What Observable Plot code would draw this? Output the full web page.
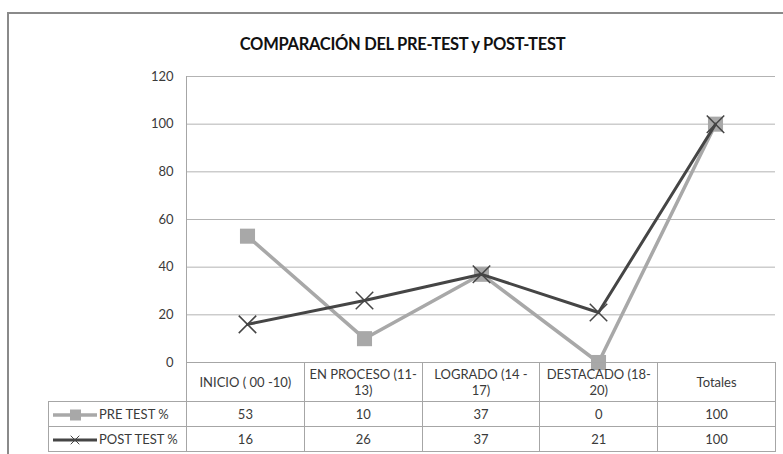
<!DOCTYPE html>
<html><head><meta charset="utf-8">
<script src="https://cdn.jsdelivr.net/npm/d3@7"></script>
<script src="https://cdn.jsdelivr.net/npm/@observablehq/plot@0.6"></script>
<style>
html,body{margin:0;padding:0;background:#fff;overflow:hidden;}
#wrap{position:relative;width:783px;height:454px;overflow:hidden;font-family:Lato,"Open Sans",sans-serif;color:#3a3a3a;}
#border{position:absolute;left:7px;top:12px;width:840px;height:520px;border:2px solid #8a8a8a;box-sizing:border-box;}
#title{position:absolute;left:0;width:805px;top:34px;text-align:center;font-weight:bold;font-size:16.5px;color:#111;letter-spacing:-0.3px;}
#chart{position:absolute;left:0;top:0;}
#tbl{position:absolute;border-collapse:collapse;table-layout:fixed;font-size:13px;color:#3a3a3a;}
#tbl td{border:1px solid #a6a6a6;text-align:center;padding:0;line-height:16px;white-space:pre-line;overflow:hidden;}
#tbl td.leg{text-align:left;white-space:nowrap;}
#tbl td.leg svg{vertical-align:middle;margin-left:4px;margin-right:2px;}
</style></head>
<body><div id="wrap"><div id="border"></div><div id="title"></div><div id="chart"></div></div>
<script>
const title = "COMPARACIÓN DEL PRE-TEST y POST-TEST";
const categories = ["INICIO ( 00 -10)", "EN PROCESO (11-13)", "LOGRADO (14 - 17)", "DESTACADO (18-20)", "Totales"];
const headerLabels = ["INICIO ( 00 -10)", "EN PROCESO (11-\n13)", "LOGRADO (14 -\n17)", "DESTACADO (18-\n20)", "Totales"];
const preTest = [53, 10, 37, 0, 100];
const postTest = [16, 26, 37, 21, 100];
const seriesNames = ["PRE TEST %", "POST TEST %"];
const yTicks = [0, 20, 40, 60, 80, 100, 120];
const colors = ["#a8a8a8", "#454545"];

document.getElementById("title").textContent = title;

const pre = categories.map((c, i) => ({cat: c, v: preTest[i]}));
const post = categories.map((c, i) => ({cat: c, v: postTest[i]}));

const chart = Plot.plot({
  width: 783, height: 454,
  marginLeft: 186, marginRight: 8, marginTop: 76, marginBottom: 92,
  style: {fontFamily: "Lato, 'Open Sans', sans-serif", fontSize: "13px", color: "#3a3a3a", background: "transparent", overflow: "visible"},
  x: {type: "point", domain: categories, padding: 0.5, axis: null},
  y: {domain: [0, 120], label: null},
  marks: [
    Plot.gridY(yTicks, {stroke: "#b3b3b3", strokeOpacity: 1}),
    Plot.frame({anchor: "left", stroke: "#a6a6a6"}),
    Plot.axisY(yTicks, {tickSize: 0, tickPadding: 13, fontSize: 13, fill: "#3a3a3a", label: null}),
    Plot.line(pre, {x: "cat", y: "v", stroke: colors[0], strokeWidth: 3.5}),
    Plot.dot(pre, {x: "cat", y: "v", symbol: "square", r: 8.5, fill: colors[0], stroke: "none"}),
    Plot.line(post, {x: "cat", y: "v", stroke: colors[1], strokeWidth: 3}),
    Plot.dot(post, {x: "cat", y: "v", symbol: "times", r: 8, stroke: colors[1], strokeWidth: 1.5})
  ]
});
document.getElementById("chart").appendChild(chart);

// data table below the plot, aligned with the x scale
const xs = chart.scale("x"), ys = chart.scale("y");
const x0 = Math.min(...xs.range), x1 = Math.max(...xs.range);
const step = (x1 - x0) / categories.length;
const legW = 138;
const top0 = ys.apply(0);
const tbl = d3.select("#wrap").append("table").attr("id", "tbl")
  .style("left", (x0 - legW) + "px").style("top", top0 + "px")
  .style("width", (legW + step * categories.length) + "px");
const cg = tbl.append("colgroup");
cg.append("col").style("width", legW + "px");
categories.forEach(() => cg.append("col").style("width", step + "px"));
const hr = tbl.append("tr").style("height", "39px");
hr.append("td").style("border-top", "none").style("border-left", "none");
headerLabels.forEach(h => hr.append("td").text(h));
[preTest, postTest].forEach((vals, s) => {
  const tr = tbl.append("tr").style("height", "25px");
  const td = tr.append("td").attr("class", "leg");
  const svg = td.append("svg").attr("width", 44).attr("height", 14);
  svg.append("line").attr("x1", 0).attr("x2", 44).attr("y1", 7).attr("y2", 7)
    .attr("stroke", colors[s]).attr("stroke-width", s ? 3 : 3.5);
  if (s === 0) svg.append("rect").attr("x", 17).attr("y", 1.5).attr("width", 11).attr("height", 11).attr("fill", colors[0]);
  else svg.append("path").attr("d", d3.symbol(d3.symbolTimes, 50)()).attr("transform", "translate(22,7)")
    .attr("stroke", colors[1]).attr("stroke-width", 1).attr("fill", "none");
  td.append("span").text(seriesNames[s]);
  vals.forEach(v => tr.append("td").text(v));
});
</script></body></html>
